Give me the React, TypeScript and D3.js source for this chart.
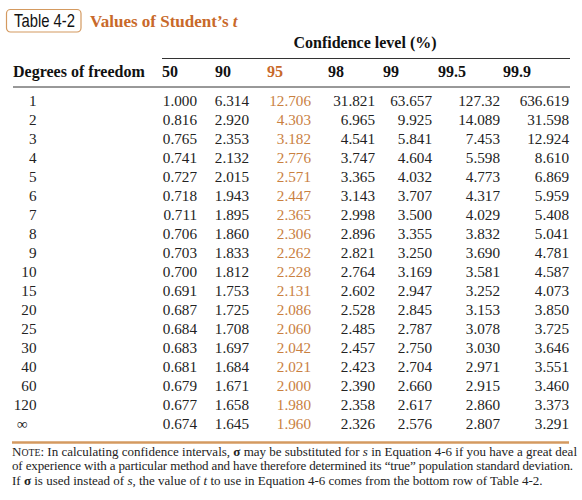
import React from "react";
import * as d3 from "d3";

const degrees = ["1","2","3","4","5","6","7","8","9","10","15","20","25","30","40","60","120","∞"];
const levels = ["50","90","95","98","99","99.5","99.9"];
const c50 = ["1.000","0.816","0.765","0.741","0.727","0.718","0.711","0.706","0.703","0.700","0.691","0.687","0.684","0.683","0.681","0.679","0.677","0.674"];
const c90 = ["6.314","2.920","2.353","2.132","2.015","1.943","1.895","1.860","1.833","1.812","1.753","1.725","1.708","1.697","1.684","1.671","1.658","1.645"];
const c95 = ["12.706","4.303","3.182","2.776","2.571","2.447","2.365","2.306","2.262","2.228","2.131","2.086","2.060","2.042","2.021","2.000","1.980","1.960"];
const c98 = ["31.821","6.965","4.541","3.747","3.365","3.143","2.998","2.896","2.821","2.764","2.602","2.528","2.485","2.457","2.423","2.390","2.358","2.326"];
const c99 = ["63.657","9.925","5.841","4.604","4.032","3.707","3.500","3.355","3.250","3.169","2.947","2.845","2.787","2.750","2.704","2.660","2.617","2.576"];
const c995 = ["127.32","14.089","7.453","5.598","4.773","4.317","4.029","3.832","3.690","3.581","3.252","3.153","3.078","3.030","2.971","2.915","2.860","2.807"];
const c999 = ["636.619","31.598","12.924","8.610","6.869","5.959","5.408","5.041","4.781","4.587","4.073","3.850","3.725","3.646","3.551","3.460","3.373","3.291"];
const columns = [c50, c90, c95, c98, c99, c995, c999];

const W = 582, H = 500;
const SERIF = "'Liberation Serif', 'Times New Roman', serif";
const ORANGE = "#c8692a";
const ORANGE_COL = "#c9803f";
const TAN = "#d49a60";

// layout: right edge of each value column and left edge of its header
const colRight = d3.scaleOrdinal<string, number>().domain(levels).range([197, 249, 311, 375, 432, 500, 569]);
const colHead = d3.scaleOrdinal<string, number>().domain(levels).range([162, 215, 267, 328, 383, 438, 503]);
const rowY = d3.scalePoint<string>().domain(degrees).range([100.5, 424.3]);

export default function App() {
  return (
    <svg width={W} height={H} style={{ position: "absolute", left: 0, top: 0, background: "#fff" }}>
      <rect x={0} y={0} width={W} height={H} fill="#fff" />
      {/* Title box */}
      <rect x={6.5} y={9.5} width={74.5} height={22.5} rx={4} fill="none" stroke={TAN} strokeWidth={1.2} />
      <text x={14} y={27.3} fontFamily="'Liberation Sans', 'DejaVu Sans', sans-serif" fontSize={19} fill="#111" textLength={61} lengthAdjust="spacingAndGlyphs">Table 4-2</text>
      <text x={90} y={26.7} fontFamily={SERIF} fontWeight="bold" fontSize={17} fill={ORANGE}>
        Values of Student’s <tspan fontStyle="italic">t</tspan>
      </text>

      {/* Confidence level header */}
      <text x={365} y={48} textAnchor="middle" fontFamily={SERIF} fontWeight="bold" fontSize={16} fill="#111">Confidence level (%)</text>
      <line x1={162} x2={570} y1={58.5} y2={58.5} stroke="#333" strokeWidth={1} />

      {/* Column headers */}
      <text x={13} y={76.5} fontFamily={SERIF} fontWeight="bold" fontSize={16} fill="#111">Degrees of freedom</text>
      {levels.map((l) => (
        <text key={l} x={colHead(l)} y={76.5} fontFamily={SERIF} fontWeight="bold" fontSize={16} fill={l === "95" ? ORANGE : "#111"}>{l}</text>
      ))}
      <line x1={13} x2={570} y1={87} y2={87} stroke="#333" strokeWidth={1} />

      {/* Rows */}
      {degrees.map((d, i) => (
        <g key={d}>
          <text x={d === "∞" ? 17 : 36.5} y={(rowY(d) as number) + 5} textAnchor={d === "∞" ? "start" : "end"} fontFamily={SERIF} fontSize={15.2} fill="#222">{d}</text>
          {levels.map((l, j) => (
            <text key={l} x={colRight(l)} y={(rowY(d) as number) + 5} textAnchor="end" fontFamily={SERIF} fontSize={15.2} fill={l === "95" ? ORANGE_COL : "#222"}>{columns[j][i]}</text>
          ))}
        </g>
      ))}

      <line x1={12} x2={569} y1={442.5} y2={442.5} stroke={TAN} strokeWidth={2.5} />

      {/* Note */}
      <text x={12} y={455.5} fontFamily={SERIF} fontSize={13} fill="#222" textLength={565} lengthAdjust="spacing">
        <tspan>N</tspan><tspan fontSize={9.8}>OTE</tspan><tspan>: In calculating confidence intervals, </tspan><tspan fontWeight="bold">σ</tspan><tspan> may be substituted for </tspan><tspan fontStyle="italic">s</tspan><tspan> in Equation 4-6 if you have a great deal</tspan>
      </text>
      <text x={12} y={470} fontFamily={SERIF} fontSize={13} fill="#222" textLength={561} lengthAdjust="spacing">
        of experience with a particular method and have therefore determined its “true” population standard deviation.
      </text>
      <text x={12} y={484.5} fontFamily={SERIF} fontSize={13} fill="#222">
        If <tspan fontWeight="bold">σ</tspan> is used instead of <tspan fontStyle="italic">s</tspan>, the value of <tspan fontStyle="italic">t</tspan> to use in Equation 4-6 comes from the bottom row of Table 4-2.
      </text>
    </svg>
  );
}
